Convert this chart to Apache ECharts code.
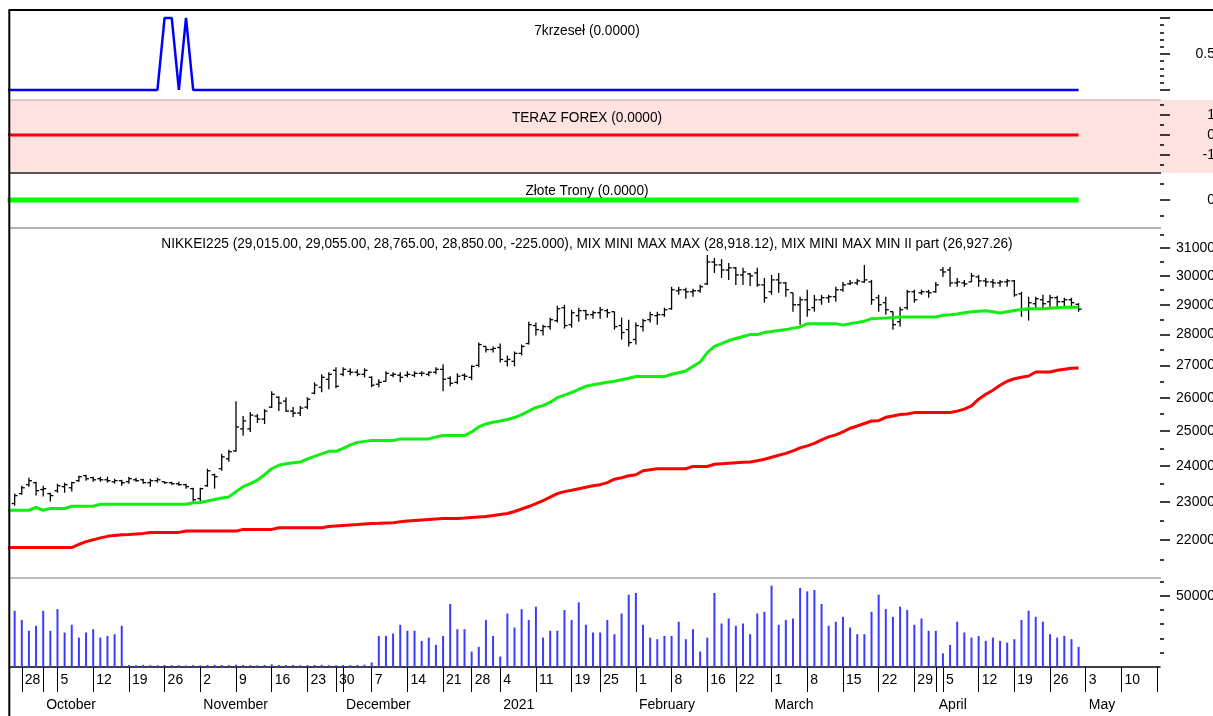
<!DOCTYPE html>
<html>
<head>
<meta charset="utf-8">
<title>NIKKEI225</title>
<script src="https://cdn.jsdelivr.net/npm/echarts@6.0.0/dist/echarts.min.js"></script>
<style>
  html, body { margin: 0; padding: 0; background: #fff; }
  #chart { width: 1213px; height: 716px; }
</style>
</head>
<body>
<div id="chart"></div>
<script>
// trading days, US calendar; index 0 = 2020-09-24 (only the indicator lines start there)
const holidays = ["2020-11-26", "2020-12-25", "2021-01-01", "2021-01-18", "2021-02-15", "2021-04-02"];
const monthNames = ["2021", "February", "March", "April", "May", "June", "July", "August", "September", "October", "November", "December"];

const opens = [null,
  22960, 23230, 23475, 23530, 23340, 23230, 23310, 23420, 23390, 23585,
  23725, 23670, 23640, 23610, 23555, 23585, 23555, 23610, 23610, 23530,
  23585, 23555, 23530, 23500, 23475, 23365, 23095, 23445, 23750, 23920,
  24200, 24425, 25065, 25065, 25445, 25355, 25715, 26015, 25895, 25595,
  25535, 25715, 26140, 26320, 26570, 26850, 26725, 26820, 26790, 26725,
  26630, 26415, 26505, 26695, 26695, 26695, 26695, 26755, 26725, 26790,
  26880, 26600, 26475, 26695, 26630, 27010, 27615, 27515, 27580, 27135,
  27135, 27390, 27710, 28300, 28135, 28265, 28465, 28900, 28330, 28630,
  28800, 28665, 28730, 28800, 28765, 28300, 28165, 27840, 28265, 28495,
  28630, 28665, 28865, 29480, 29515, 29445, 29480, 29720, 30495, 30390,
  30210, 30285, 30035, 30070, 30105, 29685, 29445, 29860, 29755, 29410,
  29000, 29170, 28900, 29170, 29240, 29275, 29515, 29720, 29755, 29790,
  29790, 29240, 29070, 28765, 28430, 28900, 29445, 29410, 29445, 29445,
  30210, 30210, 29755, 29755, 29790, 29965, 29825, 29790, 29755, 29790,
  29825, 29375, 28830, 29035, 29170, 29105, 29240, 29105, 29170, 29015];
const highs = [null,
  23230, 23445, 23670, 23555, 23445, 23255, 23500, 23530, 23555, 23725,
  23750, 23695, 23695, 23695, 23640, 23610, 23695, 23670, 23640, 23640,
  23670, 23560, 23555, 23555, 23500, 23390, 23390, 23920, 23780, 24340,
  24455, 25895, 25445, 25565, 25505, 25655, 26200, 26045, 26015, 25715,
  25745, 26015, 26475, 26725, 26790, 26945, 26945, 26915, 26880, 26915,
  26665, 26570, 26820, 26790, 26790, 26820, 26820, 26820, 26820, 26945,
  27040, 26665, 26755, 26755, 27010, 27740, 27620, 27615, 27710, 27325,
  27450, 27675, 28430, 28400, 28330, 28565, 28965, 29000, 28830, 28900,
  28830, 28800, 28935, 28865, 28770, 28565, 28495, 28400, 28530, 28765,
  28765, 28900, 29620, 29620, 29585, 29550, 29690, 30745, 30640, 30600,
  30460, 30320, 30285, 30105, 30285, 29930, 30035, 30105, 29790, 29415,
  29275, 29515, 29340, 29340, 29340, 29620, 29790, 29860, 29895, 30390,
  29860, 29340, 29275, 28770, 28935, 29515, 29515, 29515, 29515, 29790,
  30320, 30320, 29930, 29860, 30105, 30035, 29930, 29895, 29860, 29895,
  29860, 29445, 29275, 29275, 29340, 29340, 29310, 29240, 29240, 29055];
const lows = [null,
  22905, 23200, 23420, 23175, 23150, 23015, 23255, 23255, 23285, 23555,
  23585, 23555, 23555, 23530, 23500, 23445, 23500, 23555, 23500, 23420,
  23530, 23500, 23475, 23445, 23365, 23015, 23015, 23420, 23365, 23860,
  24115, 24400, 24860, 24975, 25240, 25210, 25685, 25595, 25565, 25415,
  25445, 25655, 26105, 26170, 26260, 26290, 26665, 26695, 26665, 26630,
  26320, 26320, 26500, 26630, 26475, 26630, 26630, 26665, 26665, 26725,
  26200, 26350, 26415, 26540, 26540, 26945, 27420, 27420, 27100, 26975,
  26975, 27325, 27675, 27970, 27970, 28165, 28400, 28200, 28230, 28430,
  28495, 28530, 28530, 28565, 28165, 27840, 27615, 27675, 28100, 28400,
  28330, 28595, 28830, 29340, 29205, 29275, 29410, 29685, 30105, 29930,
  29860, 29685, 29685, 29650, 29620, 29070, 29340, 29410, 29275, 28765,
  28330, 28595, 28765, 29000, 29070, 29105, 29445, 29685, 29685, 29755,
  29000, 28765, 28665, 28165, 28265, 28830, 29070, 29340, 29240, 29410,
  29965, 29620, 29620, 29620, 29785, 29620, 29620, 29585, 29620, 29620,
  29275, 28595, 28465, 28900, 28900, 28900, 28935, 28935, 28935, 28765];
const closes = [null,
  23175, 23390, 23585, 23310, 23365, 23175, 23445, 23475, 23530, 23695,
  23640, 23610, 23610, 23585, 23585, 23530, 23640, 23585, 23530, 23585,
  23610, 23530, 23500, 23475, 23420, 23065, 23365, 23860, 23695, 24255,
  24400, 25120, 25300, 25475, 25355, 25595, 26105, 25835, 25595, 25535,
  25685, 25955, 26385, 26630, 26725, 26350, 26880, 26790, 26725, 26850,
  26385, 26475, 26755, 26725, 26630, 26725, 26755, 26760, 26790, 26880,
  26570, 26445, 26665, 26665, 26975, 27675, 27515, 27550, 27195, 27195,
  27390, 27615, 28330, 28165, 28265, 28495, 28865, 28300, 28730, 28800,
  28665, 28730, 28830, 28730, 28265, 28070, 27740, 28300, 28465, 28665,
  28665, 28830, 29515, 29515, 29445, 29480, 29620, 30495, 30390, 30210,
  30285, 30035, 30140, 30000, 29685, 29240, 29860, 29755, 29515, 29000,
  29170, 28830, 29170, 29240, 29275, 29515, 29685, 29755, 29825, 29860,
  29170, 29000, 28830, 28330, 28830, 29445, 29170, 29445, 29410, 29685,
  30140, 29755, 29790, 29720, 30000, 29825, 29790, 29755, 29790, 29825,
  29340, 28830, 29070, 29205, 29035, 29240, 29105, 29170, 29070, 28850];

// MIX MINI MAX MAX (green) and MIX MINI MAX MIN II part (red)
const mixMax = [22780,
  22780, 22780, 22780, 22853, 22780, 22826, 22826, 22826, 22888, 22888,
  22888, 22888, 22941, 22941, 22941, 22941, 22941, 22941, 22941, 22941,
  22941, 22941, 22941, 22941, 22941, 22979, 22987, 23028, 23067, 23108,
  23140, 23284, 23420, 23502, 23598, 23751, 23918, 24016, 24058, 24086,
  24106, 24199, 24270, 24341, 24413, 24413, 24499, 24599, 24671, 24700,
  24723, 24723, 24723, 24723, 24772, 24772, 24772, 24772, 24772, 24830,
  24868, 24868, 24868, 24868, 24976, 25122, 25210, 25260, 25298, 25342,
  25401, 25490, 25594, 25705, 25759, 25864, 26001, 26077, 26159, 26260,
  26352, 26399, 26436, 26476, 26507, 26554, 26601, 26654, 26654, 26654,
  26654, 26654, 26725, 26772, 26829, 26976, 27112, 27414, 27613, 27709,
  27807, 27872, 27937, 28002, 28002, 28068, 28101, 28133, 28166, 28215,
  28255, 28364, 28364, 28364, 28364, 28364, 28315, 28364, 28404, 28447,
  28530, 28540, 28554, 28570, 28587, 28587, 28587, 28587, 28587, 28587,
  28647, 28664, 28688, 28731, 28765, 28782, 28798, 28765, 28721, 28765,
  28805, 28842, 28866, 28866, 28866, 28883, 28899, 28913, 28916, 28918.12];
const mixMin = [21802,
  21802, 21802, 21802, 21802, 21802, 21802, 21802, 21802, 21802, 21886,
  21956, 22002, 22053, 22092, 22117, 22135, 22143, 22156, 22169, 22195,
  22195, 22195, 22195, 22195, 22229, 22229, 22229, 22229, 22229, 22229,
  22229, 22229, 22273, 22273, 22273, 22273, 22273, 22317, 22317, 22317,
  22317, 22317, 22317, 22317, 22351, 22364, 22377, 22390, 22403, 22417,
  22430, 22435, 22443, 22448, 22474, 22495, 22509, 22522, 22535, 22548,
  22561, 22561, 22561, 22574, 22588, 22601, 22614, 22640, 22667, 22693,
  22746, 22813, 22880, 22960, 23041, 23135, 23229, 23284, 23324, 23365,
  23406, 23447, 23475, 23530, 23626, 23668, 23723, 23751, 23862, 23890,
  23918, 23918, 23918, 23918, 23918, 23983, 23983, 23983, 24044, 24058,
  24072, 24086, 24100, 24106, 24143, 24185, 24242, 24299, 24355, 24427,
  24513, 24570, 24642, 24743, 24830, 24888, 24976, 25083, 25151, 25225,
  25298, 25307, 25407, 25446, 25490, 25505, 25549, 25555, 25555, 25555,
  25555, 25555, 25594, 25654, 25753, 25955, 26107, 26229, 26383, 26507,
  26585, 26632, 26672, 26797, 26797, 26797, 26851, 26882, 26913, 26927.26];

const volumes = [null,
  39400, 32900, 25400, 28900, 39400, 25400, 40600, 24200, 29600, 20600,
  24200, 26500, 20600, 21800, 23000, 28900, 1400, 1200, 1500, 1300,
  1200, 1400, 1300, 1200, 1100, 1300, 1200, 1400, 1500, 1400,
  1300, 1600, 1400, 1300, 1200, 1400, 1900, 1400, 1300, 1400,
  1200, 1300, 1400, 1500, 1300, 1200, 1400, 1300, 1400, 1600,
  3200, 21800, 21800, 23500, 29600, 25400, 25400, 18300, 20600, 15500,
  21800, 44200, 26500, 26500, 10800, 14100, 32900, 21800, 7300, 37500,
  27700, 40600, 32900, 42300, 20600, 25400, 25400, 39900, 32900, 45300,
  29600, 24200, 24200, 32900, 23000, 37500, 50700, 51900, 29600, 20600,
  19500, 21800, 21800, 31700, 19500, 26500, 10800, 20600, 51900, 30500,
  34000, 28900, 30500, 23000, 37500, 38700, 57000, 29600, 32900, 34000,
  55400, 53000, 54000, 44200, 28900, 31700, 35200, 27700, 23000, 23000,
  38700, 50700, 40600, 35200, 42300, 39900, 29600, 34000, 25400, 25400,
  9600, 15500, 31700, 24200, 20600, 21800, 18300, 20600, 18300, 17100,
  19500, 32900, 39400, 35200, 31700, 23000, 20600, 21800, 19500, 14100];

// 7krzeseł signal
const krzesla = [0,
  0, 0, 0, 0, 0, 0, 0, 0, 0, 0,
  0, 0, 0, 0, 0, 0, 0, 0, 0, 0,
  0, 1, 1, 0, 1, 0, 0, 0, 0, 0,
  0, 0, 0, 0, 0, 0, 0, 0, 0, 0,
  0, 0, 0, 0, 0, 0, 0, 0, 0, 0,
  0, 0, 0, 0, 0, 0, 0, 0, 0, 0,
  0, 0, 0, 0, 0, 0, 0, 0, 0, 0,
  0, 0, 0, 0, 0, 0, 0, 0, 0, 0,
  0, 0, 0, 0, 0, 0, 0, 0, 0, 0,
  0, 0, 0, 0, 0, 0, 0, 0, 0, 0,
  0, 0, 0, 0, 0, 0, 0, 0, 0, 0,
  0, 0, 0, 0, 0, 0, 0, 0, 0, 0,
  0, 0, 0, 0, 0, 0, 0, 0, 0, 0,
  0, 0, 0, 0, 0, 0, 0, 0, 0, 0,
  0, 0, 0, 0, 0, 0, 0, 0, 0, 0];
const terazForex = [0,
  0, 0, 0, 0, 0, 0, 0, 0, 0, 0,
  0, 0, 0, 0, 0, 0, 0, 0, 0, 0,
  0, 0, 0, 0, 0, 0, 0, 0, 0, 0,
  0, 0, 0, 0, 0, 0, 0, 0, 0, 0,
  0, 0, 0, 0, 0, 0, 0, 0, 0, 0,
  0, 0, 0, 0, 0, 0, 0, 0, 0, 0,
  0, 0, 0, 0, 0, 0, 0, 0, 0, 0,
  0, 0, 0, 0, 0, 0, 0, 0, 0, 0,
  0, 0, 0, 0, 0, 0, 0, 0, 0, 0,
  0, 0, 0, 0, 0, 0, 0, 0, 0, 0,
  0, 0, 0, 0, 0, 0, 0, 0, 0, 0,
  0, 0, 0, 0, 0, 0, 0, 0, 0, 0,
  0, 0, 0, 0, 0, 0, 0, 0, 0, 0,
  0, 0, 0, 0, 0, 0, 0, 0, 0, 0,
  0, 0, 0, 0, 0, 0, 0, 0, 0, 0];
const zloteTrony = [0,
  0, 0, 0, 0, 0, 0, 0, 0, 0, 0,
  0, 0, 0, 0, 0, 0, 0, 0, 0, 0,
  0, 0, 0, 0, 0, 0, 0, 0, 0, 0,
  0, 0, 0, 0, 0, 0, 0, 0, 0, 0,
  0, 0, 0, 0, 0, 0, 0, 0, 0, 0,
  0, 0, 0, 0, 0, 0, 0, 0, 0, 0,
  0, 0, 0, 0, 0, 0, 0, 0, 0, 0,
  0, 0, 0, 0, 0, 0, 0, 0, 0, 0,
  0, 0, 0, 0, 0, 0, 0, 0, 0, 0,
  0, 0, 0, 0, 0, 0, 0, 0, 0, 0,
  0, 0, 0, 0, 0, 0, 0, 0, 0, 0,
  0, 0, 0, 0, 0, 0, 0, 0, 0, 0,
  0, 0, 0, 0, 0, 0, 0, 0, 0, 0,
  0, 0, 0, 0, 0, 0, 0, 0, 0, 0,
  0, 0, 0, 0, 0, 0, 0, 0, 0, 0];

const priceMajor = [22000, 23000, 24000, 25000, 26000, 27000, 28000, 29000, 30000, 31000];
const priceMinor = [21500, 22500, 23500, 24500, 25500, 26500, 27500, 28500, 29500, 30500, 31500];

const titles = {
  krzesla: "7krzeseł (0.0000)",
  forex: "TERAZ FOREX (0.0000)",
  trony: "Złote Trony (0.0000)",
  main: "NIKKEI225 (29,015.00, 29,055.00, 28,765.00, 28,850.00, -225.000), MIX MINI MAX MAX (28,918.12), MIX MINI MAX MIN II part (26,927.26)",
};

const dates = [];
for (let d = new Date(Date.UTC(2020, 8, 24)); d <= new Date(Date.UTC(2021, 4, 18)); d.setUTCDate(d.getUTCDate() + 1)) {
  const s = d.toISOString().slice(0, 10);
  const wd = d.getUTCDay();
  if (wd === 0 || wd === 6 || holidays.includes(s)) continue;
  dates.push(s);
}
const dayMs = (s) => Date.parse(s + "T00:00:00Z");
const weekStarts = [];
const monthStarts = [];
for (let k = 1; k < dates.length; k++) {
  const prev = new Date(dayMs(dates[k - 1])).getUTCDay();
  const cur = new Date(dayMs(dates[k])).getUTCDay();
  if (cur <= prev || dayMs(dates[k]) - dayMs(dates[k - 1]) > 4 * 864e5) weekStarts.push(k);
  if (dates[k].slice(5, 7) !== dates[k - 1].slice(5, 7)) monthStarts.push(k);
}

const FONT = '"Liberation Sans", Arial, sans-serif';
const X_MIN = 0.35;
const X_MAX = 161.4;
const LEFT = 10;
const RIGHT = 53;

const series2d = (arr) => arr.map((v, k) => [k, v]);

function renderOhlc(params, api) {
  const k = api.value(0);
  const o = api.coord([k, api.value(1)]);
  const h = api.coord([k, api.value(2)]);
  const l = api.coord([k, api.value(3)]);
  const c = api.coord([k, api.value(4)]);
  const style = { stroke: "#000", lineWidth: 1.3 };
  return {
    type: "group",
    children: [
      { type: "line", shape: { x1: h[0], y1: h[1], x2: l[0], y2: l[1] }, style },
      { type: "line", shape: { x1: o[0] - 3, y1: o[1], x2: o[0], y2: o[1] }, style },
      { type: "line", shape: { x1: c[0], y1: c[1], x2: c[0] + 3, y2: c[1] }, style },
    ],
  };
}

// each panel gets two right-hand axes: long ticks with labels, short ticks without
function panelAxes(gridIndex, scale, major, minor, labels, fmt) {
  const base = {
    gridIndex,
    position: "right",
    axisLine: { show: false },
    splitLine: { show: false },
    ...scale,
  };
  return [
    {
      ...base,
      axisTick: { customValues: major, length: 10, lineStyle: { color: "#000", width: 1.5 } },
      axisLabel: {
        customValues: labels,
        formatter: fmt,
        align: "right",
        margin: 55,
        fontSize: 14,
        fontFamily: FONT,
        color: "#000",
      },
    },
    {
      ...base,
      axisTick: { customValues: minor, length: 4, lineStyle: { color: "#000", width: 1.5 } },
      axisLabel: { show: false },
    },
  ];
}

const hiddenX = (gridIndex) => ({ gridIndex, type: "value", min: X_MIN, max: X_MAX, show: false });

const hline = (y, color, width, x2 = 1161) => ({
  type: "line",
  z: 5,
  shape: { x1: LEFT, y1: y, x2, y2: y },
  style: { stroke: color, lineWidth: width },
});
const titleText = (text, y) => ({
  type: "text",
  x: 587,
  y,
  scaleX: 0.91,
  z: 6,
  style: { text, font: `15px ${FONT}`, fill: "#000", align: "center", verticalAlign: "middle" },
});

const gridBox = (top, height) => ({ left: LEFT, right: RIGHT, top, height, outerBoundsMode: "none", containLabel: false });

const chart = echarts.init(document.getElementById("chart"), null, { renderer: "canvas" });

chart.setOption({
  animation: false,
  backgroundColor: "#fff",
  grid: [
    gridBox(10, 90),
    gridBox(100, 73),
    gridBox(173, 55),
    gridBox(228, 350),
    gridBox(578, 89),
  ],
  xAxis: [
    hiddenX(0),
    hiddenX(1),
    hiddenX(2),
    hiddenX(3),
    {
      gridIndex: 4,
      type: "value",
      min: X_MIN,
      max: X_MAX,
      position: "bottom",
      axisLine: { show: false },
      splitLine: { show: false },
      axisTick: { customValues: weekStarts.concat(monthStarts), length: 25, lineStyle: { color: "#000", width: 1 } },
      axisLabel: {
        customValues: weekStarts.filter((k) => k <= 160),
        formatter: (v) => String(+dates[v].slice(8, 10)),
        align: "left",
        padding: [0, 0, 0, 3],
        margin: 6,
        fontSize: 14,
        fontFamily: FONT,
        color: "#000",
      },
    },
    {
      gridIndex: 4,
      type: "value",
      min: X_MIN,
      max: X_MAX,
      position: "bottom",
      offset: 25,
      axisLine: { show: true, lineStyle: { color: "#000", width: 1.5 } },
      splitLine: { show: false },
      axisTick: { customValues: monthStarts, length: 24, lineStyle: { color: "#000", width: 1 } },
      axisLabel: {
        customValues: monthStarts,
        formatter: (v) => monthNames[+dates[v].slice(5, 7) - 1],
        align: "left",
        padding: [0, 0, 0, 3],
        margin: 6,
        fontSize: 14,
        fontFamily: FONT,
        color: "#000",
      },
    },
  ],
  yAxis: [
    ...panelAxes(0, { type: "value", min: -0.139, max: 1.111 }, [0, 0.5, 1],
      [0.1, 0.2, 0.3, 0.4, 0.6, 0.7, 0.8, 0.9], [0.5], (v) => String(v)),
    ...panelAxes(1, { type: "value", min: -1.9, max: 1.75 }, [-1, 0, 1],
      [-1.5, -0.5, 0.5, 1.5], [-1, 0, 1], (v) => String(v)),
    ...panelAxes(2, { type: "value", min: -0.875, max: 0.844 }, [0],
      [-0.5, 0.5], [0], (v) => String(v)),
    ...panelAxes(3, { type: "log", logBase: 10, min: 21037, max: 31737 }, priceMajor,
      priceMinor, priceMajor, (v) => String(Math.round(v))),
    ...panelAxes(4, { type: "value", min: 0, max: 62400 }, [50000],
      [10000, 20000, 30000, 40000, 60000], [50000], (v) => String(v)),
  ],
  graphic: [
    { type: "rect", z: -1, shape: { x: LEFT, y: 100, width: 1213 - LEFT, height: 73 }, style: { fill: "#ffe3e0" } },
    hline(100, "#b9a3a3", 1),
    hline(173, "#222", 1.5),
    hline(228, "#666", 1),
    hline(578, "#777", 1),
    { type: "line", z: 5, shape: { x1: 8.5, y1: 10, x2: 1213, y2: 10 }, style: { stroke: "#000", lineWidth: 2 } },
    { type: "line", z: 5, shape: { x1: 9.3, y1: 10, x2: 9.3, y2: 716 }, style: { stroke: "#000", lineWidth: 2 } },
    titleText(titles.krzesla, 31),
    titleText(titles.forex, 118),
    titleText(titles.trony, 191),
    titleText(titles.main, 244),
  ],
  series: [
    {
      name: "7krzeseł",
      type: "line",
      xAxisIndex: 0,
      yAxisIndex: 0,
      data: series2d(krzesla),
      symbol: "none",
      lineStyle: { color: "#0000ff", width: 2.5 },
    },
    {
      name: "TERAZ FOREX",
      type: "line",
      xAxisIndex: 1,
      yAxisIndex: 2,
      data: series2d(terazForex),
      symbol: "none",
      lineStyle: { color: "#ff0000", width: 3 },
    },
    {
      name: "Złote Trony",
      type: "line",
      xAxisIndex: 2,
      yAxisIndex: 4,
      data: series2d(zloteTrony),
      symbol: "none",
      lineStyle: { color: "#00ff00", width: 5 },
    },
    {
      name: "MIX MINI MAX MAX",
      type: "line",
      xAxisIndex: 3,
      yAxisIndex: 6,
      data: series2d(mixMax),
      symbol: "none",
      lineStyle: { color: "#11ee11", width: 3 },
    },
    {
      name: "MIX MINI MAX MIN II part",
      type: "line",
      xAxisIndex: 3,
      yAxisIndex: 6,
      data: series2d(mixMin),
      symbol: "none",
      lineStyle: { color: "#ff0000", width: 3 },
    },
    {
      name: "NIKKEI225",
      type: "custom",
      xAxisIndex: 3,
      yAxisIndex: 6,
      clip: true,
      renderItem: renderOhlc,
      encode: { x: 0, y: [1, 2, 3, 4] },
      data: opens
        .map((o, k) => [k, o, highs[k], lows[k], closes[k]])
        .filter((row) => row[1] != null),
      z: 3,
    },
    {
      name: "Volume",
      type: "bar",
      xAxisIndex: 4,
      yAxisIndex: 8,
      barWidth: 2,
      data: series2d(volumes).filter((p) => p[1] != null),
      itemStyle: { color: "#3b3bff" },
    },
  ],
});
</script>
</body>
</html>
